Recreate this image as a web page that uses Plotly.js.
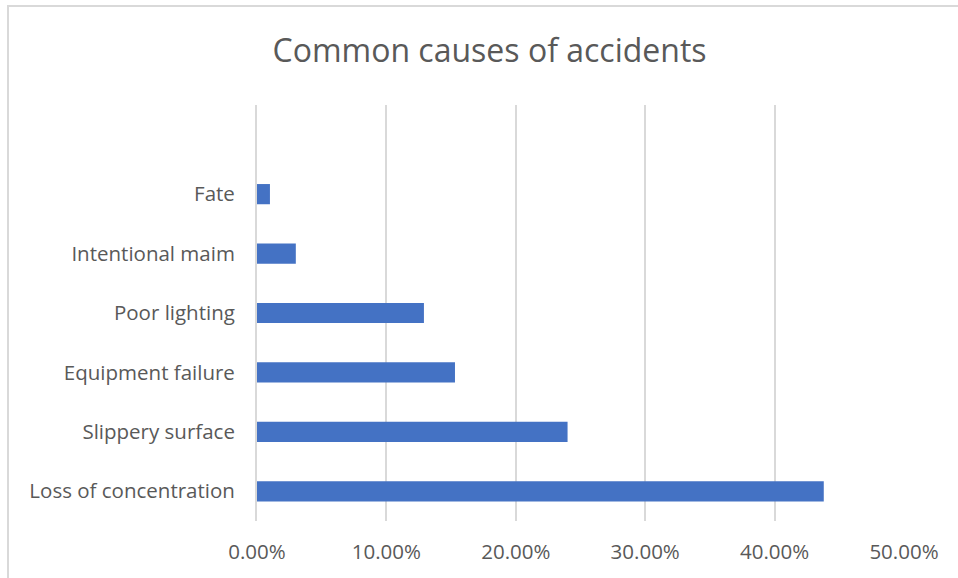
<!DOCTYPE html>
<html>
<head>
<meta charset="utf-8">
<script src="https://cdn.plot.ly/plotly-3.0.1.min.js"></script>
<style>
  html, body { margin: 0; padding: 0; background: #ffffff; overflow: hidden; }
  #wrap { position: relative; width: 958px; height: 578px; }
  #chart { position: absolute; left: 0; top: 0; width: 958px; height: 578px; }
  #frame {
    position: absolute; left: 7px; top: 5px; width: 970px; height: 600px;
    border: 2px solid #d9d9d9; box-sizing: border-box; pointer-events: none;
  }
</style>
</head>
<body>
<div id="wrap">
  <div id="chart"></div>
  <div id="frame"></div>
</div>
<script>
// Causes, listed bottom to top as they appear on the category axis
const causes = [
  "Loss of concentration",
  "Slippery surface",
  "Equipment failure",
  "Poor lighting",
  "Intentional maim",
  "Fate"
];
// Share of accidents for each cause
const shares = [0.438, 0.240, 0.153, 0.129, 0.030, 0.010];
const percentTicks = [0, 0.1, 0.2, 0.3, 0.4, 0.5];

const textColor = "#595959";
const gridColor = "#d9d9d9";
const fontFamily = "'Open Sans', 'Noto Sans', sans-serif";

const trace = {
  type: "bar",
  orientation: "h",
  y: causes,
  x: shares,
  marker: { color: "#4472c4", line: { width: 0 } },
  hoverinfo: "x+y"
};

const layout = {
  width: 958,
  height: 578,
  margin: { l: 257, r: 54, t: 105, b: 57 },
  paper_bgcolor: "#ffffff",
  plot_bgcolor: "#ffffff",
  bargap: 0.66,
  showlegend: false,
  title: {
    text: "Common causes of accidents",
    font: { family: fontFamily, size: 32, color: textColor },
    x: 0.511,
    xanchor: "center",
    y: 0.912,
    yanchor: "middle"
  },
  xaxis: {
    range: [0, 0.5],
    tickvals: percentTicks,
    tickformat: ".2%",
    showgrid: true,
    gridcolor: gridColor,
    gridwidth: 2,
    zeroline: false,
    showline: false,
    ticks: "outside",
    ticklen: 12,
    tickcolor: "rgba(0,0,0,0)",
    tickfont: { family: fontFamily, size: 20.5, color: textColor },
    fixedrange: true
  },
  yaxis: {
    type: "category",
    categoryorder: "array",
    categoryarray: causes,
    range: [-0.5, 6.5],
    showgrid: false,
    zeroline: false,
    showline: true,
    linecolor: gridColor,
    linewidth: 2,
    ticks: "outside",
    ticklen: 16,
    tickcolor: "rgba(0,0,0,0)",
    tickfont: { family: fontFamily, size: 20.5, color: textColor },
    fixedrange: true
  }
};

Plotly.newPlot("chart", [trace], layout, { displayModeBar: false, staticPlot: true });
</script>
</body>
</html>
